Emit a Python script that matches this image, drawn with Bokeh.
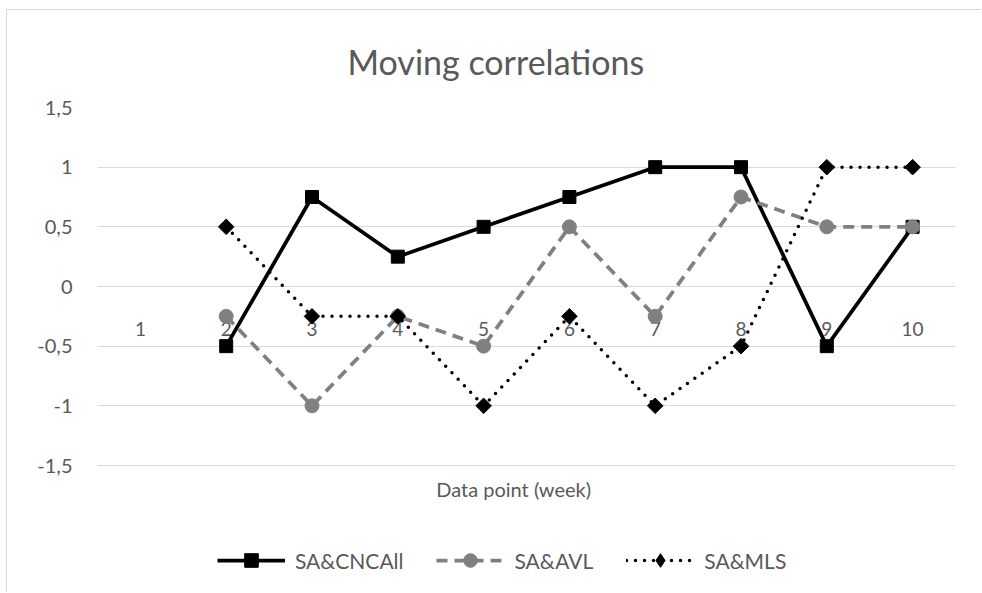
from bokeh.plotting import figure
from bokeh.models import FactorRange, Range1d, FixedTicker, Legend, LegendItem, ColumnDataSource, Label
from bokeh.core.properties import value
from bokeh.embed import file_html
from bokeh.resources import INLINE

nan = float("nan")
categories = ["1", "2", "3", "4", "5", "6", "7", "8", "9", "10"]
sa_cncall = [nan, -0.5, 0.75, 0.25, 0.5, 0.75, 1.0, 1.0, -0.5, 0.5]
sa_avl = [nan, -0.25, -1.0, -0.25, -0.5, 0.5, -0.25, 0.75, 0.5, 0.5]
sa_mls = [nan, 0.5, -0.25, -0.25, -1.0, -0.25, -1.0, -0.5, 1.0, 1.0]
series_names = ["SA&CNCAll", "SA&AVL", "SA&MLS"]
y_ticks = [-1.5, -1.0, -0.5, 0.0, 0.5, 1.0, 1.5]
y_tick_labels = ["-1,5", "-1", "-0,5", "0", "0,5", "1", "1,5"]
title_text = "Moving correlations"
x_title = "Data point (week)"
axis_cross = 0.0

FONT = "Lato"
TXT = "#595959"

# layout (pixels)
W, H = 975, 583
FRAME_TOP = 97
PLOT_H = 358                      # pixel height of the -1.5 .. 1.5 value band
px_per_unit = PLOT_H / (y_ticks[-1] - y_ticks[0])
frame_h = H - FRAME_TOP
y_bottom = y_ticks[-1] - frame_h / px_per_unit

src = ColumnDataSource(dict(x=categories, a=sa_cncall, b=sa_avl, c=sa_mls,
                            zero=[axis_cross] * len(categories)))

p = figure(width=W, height=H, x_range=FactorRange(*categories),
           y_range=Range1d(y_bottom, y_ticks[-1]),
           output_backend="svg", toolbar_location=None,
           min_border_left=90, min_border_right=27, min_border_top=FRAME_TOP, min_border_bottom=0)
p.margin = (9, 0, 0, 6)
p.styles = {"border-top": "1px solid #d9d9d9", "border-left": "1px solid #d9d9d9"}
p.outline_line_color = None
p.background_fill_color = "white"
p.border_fill_color = "white"

p.title.text = title_text
p.title.text_font = FONT
p.title.text_font_size = "34px"
p.title.text_font_style = "normal"
p.title.text_color = TXT
p.title.align = "left"
p.title.offset = 250
p.title.standoff = 51

# y axis
p.yaxis.ticker = FixedTicker(ticks=y_ticks)
p.yaxis.major_label_overrides = {t: l for t, l in zip(y_ticks, y_tick_labels)}
p.yaxis.axis_line_color = None
p.yaxis.major_tick_line_color = None
p.yaxis.minor_tick_line_color = None
p.yaxis.major_tick_out = 0
p.yaxis.major_tick_in = 0
p.yaxis.major_label_standoff = 25
p.yaxis.major_label_text_font = FONT
p.yaxis.major_label_text_font_size = "20px"
p.yaxis.major_label_text_color = TXT
p.ygrid.ticker = FixedTicker(ticks=y_ticks)
p.ygrid.grid_line_color = "#d9d9d9"
p.ygrid.grid_line_width = 1
p.xgrid.grid_line_color = None
p.xaxis.visible = False

# category labels where the horizontal axis crosses (value 0)
p.text(x="x", y="zero", text="x", source=src, y_offset=42,
       text_align="center", text_baseline="middle",
       text_font=value(FONT), text_font_size="19px", text_color=TXT)

# horizontal axis title
p.add_layout(Label(x=4.85, y=-1.70, text=x_title, text_align="center", text_baseline="middle",
                   text_font=FONT, text_font_size="20px", text_color=TXT))

# series
l1 = p.line("x", "a", source=src, line_color="black", line_width=3.75)
m1 = p.scatter("x", "a", source=src, marker="square", size=13, color="black")
l2 = p.line("x", "b", source=src, line_color="#808080", line_width=3.75, line_dash="11 7")
m2 = p.scatter("x", "b", source=src, marker="circle", size=14, color="#808080")
l3 = p.line("x", "c", source=src, line_color="black", line_width=3.5, line_dash="0 9",
            line_cap="round")
m3 = p.scatter("x", "c", source=src, marker="square", angle=0.7854, size=11, color="black")
# legend key for the diamond series (legend keys ignore marker rotation)
m3_key = p.scatter("x", "c", source=src, marker="diamond", size=0, color="black")

legend = Legend(items=[LegendItem(label=series_names[0], renderers=[l1, m1]),
                       LegendItem(label=series_names[1], renderers=[l2, m2]),
                       LegendItem(label=series_names[2], renderers=[l3, m3_key])],
                orientation="horizontal", location=(120, 16))
legend.border_line_color = None
legend.background_fill_alpha = 0
legend.glyph_width = 68
legend.glyph_height = 34
legend.label_standoff = 10
legend.spacing = 33
legend.padding = 0
legend.margin = 0
legend.label_text_font = FONT
legend.label_text_font_size = "21px"
legend.label_text_color = TXT
p.add_layout(legend, "center")

open("out.html", "w").write(file_html(p, INLINE))
